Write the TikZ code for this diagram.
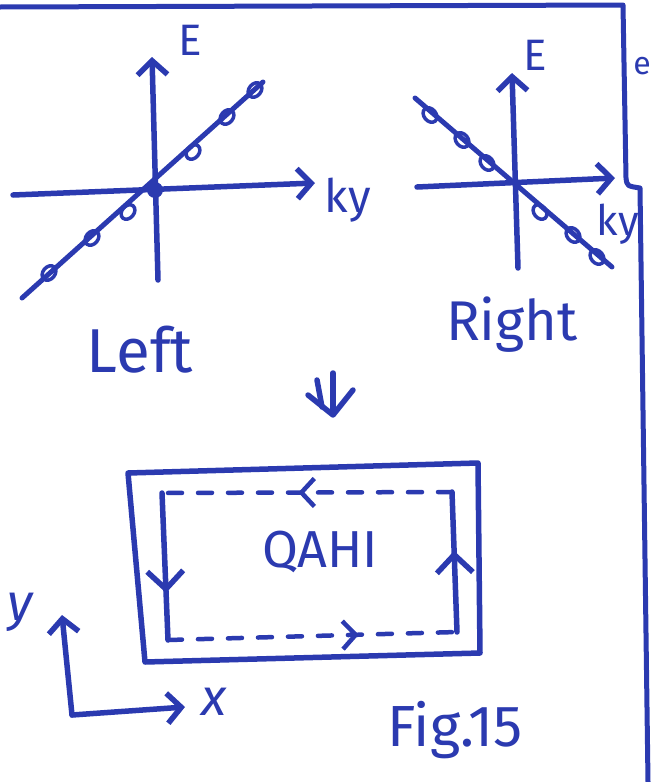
\documentclass[tikz,border=0pt]{standalone}
\usepackage{fontspec}
\setmainfont{Fira Sans}
\usetikzlibrary{arrows.meta,decorations.markings}
\definecolor{pen}{HTML}{2B3AB0}

\begin{document}
\begin{tikzpicture}[
  x=1pt, y=-1pt,
  ink/.style={draw=pen, line width=5.5pt, line cap=round, line join=round},
  axis/.style={ink, -{Straight Barb[length=14pt,width=30pt]}},
  dot/.style={draw=pen, line width=3.5pt},
  lbl/.style={text=pen, font=\fontsize{36}{40}\selectfont},
  flow/.style={ink, postaction={decorate}, decoration={markings,
      mark=at position #1 with {\arrow{Straight Barb[length=18pt,width=36pt]}}}},
  dashflow/.style={ink, line width=4.5pt, dash pattern=on 14pt off 16pt,
      postaction={decorate}, decoration={markings,
      mark=at position #1 with {\arrow[solid]{Straight Barb[length=13pt,width=28pt]}}}}
]
\useasboundingbox (0,0) rectangle (653,782);

% page frame
\draw[ink, line width=5pt] (0,7) -- (623,5) -- (626,178)
  .. controls (627,186) .. (640,188) -- (648,782);
\node[lbl, font=\fontsize{32}{34}\selectfont] (edge) at (642,66) {e};

% left dispersion
\coordinate (lo) at (155,190);
\coordinate (lbot) at (158,280);
\coordinate (ltop) at (152,57);
\coordinate (lwest) at (13,195);
\coordinate (least) at (315,183);
\draw[axis] (lbot) -- (ltop);
\draw[axis] (lwest) -- (least);
\draw[ink, line width=5pt] (22,298) -- (263,82);
\foreach \p in {(49,273),(92,238),(128,212),(193,152),(227,117),(255,90)}
  \draw[dot, rotate around={-40:\p}] \p ellipse (6pt and 8pt);
\fill[pen] (lo) circle (8pt);
\node[lbl, font=\fontsize{44}{48}\selectfont] (le) at (190,40) {E};
\node[lbl, font=\fontsize{46}{50}\selectfont] (lky) at (348,200) {ky};
\node[lbl, font=\fontsize{62}{66}\selectfont] (left) at (140,350) {Left};

% right dispersion
\coordinate (ro) at (515,185);
\coordinate (rbot) at (518,268);
\coordinate (rtop) at (512,73);
\coordinate (rwest) at (417,187);
\coordinate (reast) at (615,178);
\draw[axis] (rbot) -- (rtop);
\draw[axis] (rwest) -- (reast);
\draw[ink, line width=5pt] (415,98) -- (612,267);
\foreach \p in {(430,115),(462,140),(487,163),(540,212),(573,235),(597,257)}
  \draw[dot, rotate around={40:\p}] \p ellipse (6pt and 8pt);
\node[lbl, font=\fontsize{44}{48}\selectfont] (re) at (535,55) {E};
\node[lbl, font=\fontsize{42}{46}\selectfont] (rky) at (618,224) {ky};
\node[lbl, font=\fontsize{56}{60}\selectfont] (right) at (512,325) {Right};

% implies
\coordinate (da) at (317,380);
\coordinate (db) at (322,407);
\coordinate (dc) at (333,373);
\coordinate (dd) at (333,413);
\coordinate (dl) at (308,395);
\coordinate (dtip) at (333,415);
\coordinate (dr) at (353,390);
\draw[ink] (da) -- (db);
\draw[ink] (dc) -- (dd);
\draw[ink] (dl) -- (dtip) -- (dr);

% sample with edge channels
\coordinate (bnw) at (128,473);
\coordinate (bne) at (478,463);
\coordinate (bse) at (480,653);
\coordinate (bsw) at (145,662);
\draw[ink] (bnw) -- (bne) -- (bse) -- (bsw) -- cycle;

\coordinate (cnw) at (162,493);
\coordinate (cne) at (452,492);
\coordinate (cse) at (457,632);
\coordinate (csw) at (168,640);
\draw[flow=0.68] (cnw) -- (csw);
\draw[dashflow=0.66] (csw) -- (cse);
\draw[flow=0.58] (cse) -- (cne);
\draw[dashflow=0.53] (cne) -- (cnw);
\node[lbl, font=\fontsize{52}{56}\selectfont] (qahi) at (320,552) {QAHI};

% xy frame
\coordinate (xyo) at (72,715);
\coordinate (yend) at (62,615);
\coordinate (xend) at (185,707);
\draw[axis] (xyo) -- (yend);
\draw[axis] (xyo) -- (xend);
\node[lbl, font=\itshape\fontsize{52}{56}\selectfont] (ylbl) at (20,612) {y};
\node[lbl, font=\itshape\fontsize{52}{56}\selectfont] (xlbl) at (214,702) {x};

\node[lbl, font=\fontsize{58}{62}\selectfont] (fig) at (455,730) {Fig.15};
\end{tikzpicture}
\end{document}
